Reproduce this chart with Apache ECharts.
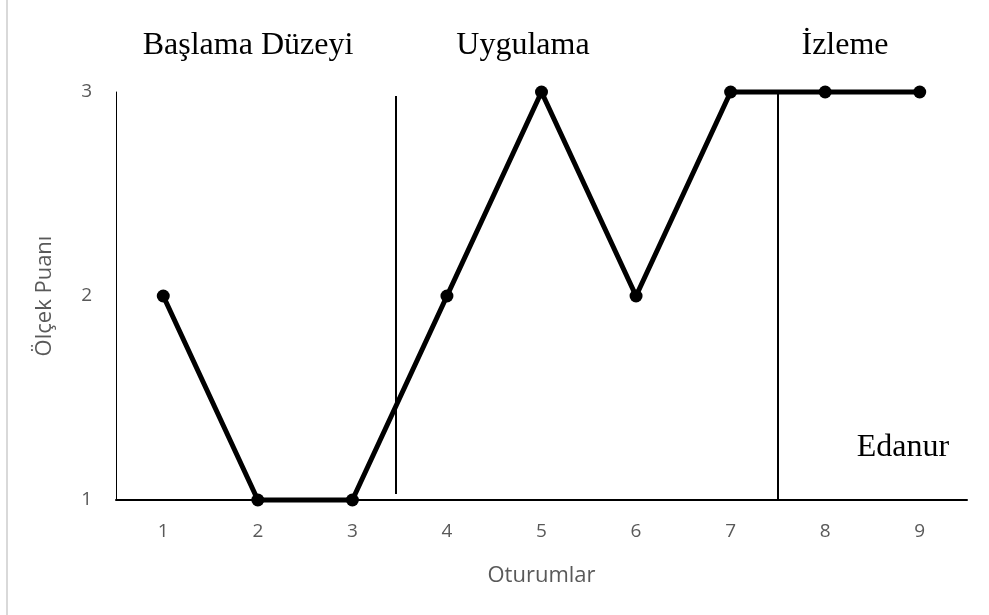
<!DOCTYPE html>
<html>
<head>
<meta charset="utf-8">
<script src="https://cdn.jsdelivr.net/npm/echarts@6/dist/echarts.min.js"></script>
<style>
    html, body { margin: 0; padding: 0; background: #fff; }
    #app { width: 989px; height: 615px; }
</style>
</head>
<body>
<div id="app"></div>
<script>
// 数据
let sessions = ["1", "2", "3", "4", "5", "6", "7", "8", "9"];
let scores = [2, 1, 1, 2, 3, 2, 3, 3, 3];
let yTicks = [1, 2, 3];
// 阶段分隔线 (x位置, 上端, 下端)
let phaseLines = [
    [3.46, 2.98, 1.03],
    [7.5, 3, 1]
];
let phaseNames = ["Başlama Düzeyi", "Uygulama", "İzleme"];
let studentName = "Edanur";

let sansFont = "Open Sans";

let myChart = echarts.init(document.querySelector("#app"));

let serifText = (text, x, y) => ({
    type: "text",
    x: x,
    y: y,
    style: {
        text: text,
        fill: "#000",
        fontSize: 32,
        fontFamily: "Liberation Serif",
        align: "center",
        verticalAlign: "middle"
    }
});

myChart.setOption({
    animation: false,
    grid: {
        left: 116,
        right: 22,
        top: 92,
        bottom: 115
    },
    xAxis: [
        {
            type: "category",
            data: sessions,
            name: "Oturumlar",
            nameLocation: "middle",
            nameGap: 65,
            nameTextStyle: {
                color: "#595959",
                fontSize: 22,
                fontFamily: sansFont
            },
            axisLine: { lineStyle: { color: "#000", width: 2 } },
            axisTick: { show: false },
            axisLabel: {
                color: "#595959",
                fontSize: 19,
                margin: 22,
                fontFamily: sansFont
            },
            splitLine: { show: false }
        },
        {
            // 分隔线用的隐藏数值轴
            type: "value",
            min: 0.5,
            max: 9.5,
            show: false
        }
    ],
    yAxis: {
        type: "value",
        min: yTicks[0],
        max: yTicks[yTicks.length - 1],
        interval: 1,
        name: "Ölçek Puanı",
        nameLocation: "middle",
        nameGap: 60,
        nameTextStyle: {
            color: "#595959",
            fontSize: 22,
            fontFamily: sansFont
        },
        axisLine: { show: true, lineStyle: { color: "#000", width: 1 } },
        axisTick: { show: false },
        axisLabel: {
            color: "#595959",
            fontSize: 19,
            margin: 24,
            fontFamily: sansFont
        },
        splitLine: { show: false }
    },
    graphic: [
        {
            type: "line",
            shape: { x1: 7, y1: 0, x2: 7, y2: 615 },
            style: { stroke: "#d9d9d9", lineWidth: 2 }
        },
        serifText(phaseNames[0], 248, 46),
        serifText(phaseNames[1], 523, 46),
        serifText(phaseNames[2], 845, 46),
        serifText(studentName, 903, 448)
    ],
    series: [
        {
            name: studentName,
            type: "line",
            data: scores,
            symbol: "circle",
            symbolSize: 13,
            itemStyle: { color: "#000" },
            lineStyle: { color: "#000", width: 5 },
            clip: false,
            z: 3
        },
        {
            type: "line",
            xAxisIndex: 1,
            data: [],
            clip: false,
            markLine: {
                silent: true,
                symbol: "none",
                label: { show: false },
                lineStyle: { color: "#000", width: 2, type: "solid" },
                data: phaseLines.map(p => [
                    { coord: [p[0], p[1]] },
                    { coord: [p[0], p[2]] }
                ])
            }
        }
    ]
});
</script>
</body>
</html>
